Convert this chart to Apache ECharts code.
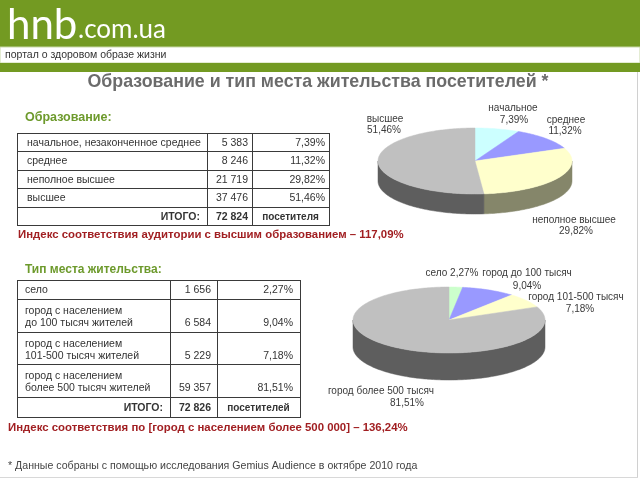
<!DOCTYPE html>
<html>
<head>
<meta charset="utf-8">
<script src="https://cdn.jsdelivr.net/npm/echarts@6/dist/echarts.min.js"></script>
<style>
  html, body { margin: 0; padding: 0; background: #fff; }
  #chart { width: 640px; height: 480px; }
</style>
</head>
<body>
<div id="chart"></div>
<script>
// данные: образование
const eduNames = ['начальное, незаконченное среднее', 'среднее', 'неполное высшее', 'высшее']
const eduShort = ['начальное', 'среднее', 'неполное высшее', 'высшее']
const eduCounts = [5383, 8246, 21719, 37476]
const eduShares = [7.39, 11.32, 29.82, 51.46]
const eduTotalWord = 'посетителя'

// данные: тип места жительства
const placeNames = [
  ['село'],
  ['город с населением', 'до 100 тысяч жителей'],
  ['город с населением', '101-500 тысяч жителей'],
  ['город с населением', 'более 500 тысяч жителей']
]
const placeShort = ['село', 'город до 100 тысяч', 'город 101-500 тысяч', 'город более 500 тысяч']
const placeCounts = [1656, 6584, 5229, 59357]
const placeShares = [2.27, 9.04, 7.18, 81.51]
const placeTotalWord = 'посетителей'

const FONT = '"Liberation Sans", Arial, sans-serif'
const GREEN = '#739a22'
const RED = '#a11f22'
const INK = '#333333'

const fmtInt = (n) => String(n).replace(/\B(?=(\d{3})+(?!\d))/g, ' ')
const fmtPct = (v) => v.toFixed(2).replace('.', ',') + '%'
const sum = (arr) => arr.reduce((s, v) => s + v, 0)

function text(x, y, str, opt = {}) {
  return {
    type: 'text',
    x, y,
    style: Object.assign({
      text: str,
      fill: INK,
      font: `${opt.weight || 'normal'} ${opt.size || 10.5}px ${FONT}`,
      textAlign: 'left',
      textVerticalAlign: 'middle'
    }, opt.style || {}),
    z: 10
  }
}

function hline(x0, x1, y, color = '#3a3a3a') {
  return { type: 'line', shape: { x1: x0, y1: y + 0.5, x2: x1, y2: y + 0.5 }, style: { stroke: color, lineWidth: 1 }, z: 5 }
}
function vline(x, y0, y1, color = '#3a3a3a') {
  return { type: 'line', shape: { x1: x + 0.5, y1: y0, x2: x + 0.5, y2: y1 }, style: { stroke: color, lineWidth: 1 }, z: 5 }
}

function gridLines(xs, ys) {
  const els = []
  ys.forEach((y) => els.push(hline(xs[0], xs[xs.length - 1] + 1, y)))
  xs.forEach((x) => els.push(vline(x, ys[0], ys[ys.length - 1] + 1)))
  return els
}

// таблица образования
function eduTable() {
  const xs = [17, 207, 252, 329]
  const ys = [133, 151, 170, 188, 207, 225]
  const els = gridLines(xs, ys)
  eduNames.forEach((name, i) => {
    const cy = (ys[i] + ys[i + 1]) / 2 + 1
    els.push(text(xs[0] + 10, cy, name))
    els.push(text(xs[2] - 4, cy, fmtInt(eduCounts[i]), { style: { textAlign: 'right' } }))
    els.push(text(xs[3] - 4, cy, fmtPct(eduShares[i]), { style: { textAlign: 'right' } }))
  })
  const cy = (ys[4] + ys[5]) / 2 + 1
  els.push(text(xs[1] - 7, cy, 'ИТОГО:', { weight: 'bold', style: { textAlign: 'right' } }))
  els.push(text(xs[2] - 4, cy, fmtInt(sum(eduCounts)), { weight: 'bold', style: { textAlign: 'right' } }))
  els.push(text((xs[2] + xs[3]) / 2, cy, eduTotalWord, { weight: 'bold', size: 10, style: { textAlign: 'center' } }))
  return els
}

// таблица места жительства
function placeTable() {
  const xs = [17, 170, 217, 300]
  const ys = [280, 299, 332, 364, 397, 417]
  const els = gridLines(xs, ys)
  placeNames.forEach((lines, i) => {
    let lastY
    if (lines.length === 1) {
      lastY = (ys[i] + ys[i + 1]) / 2 + 1
      els.push(text(xs[0] + 8, lastY, lines[0]))
    } else {
      els.push(text(xs[0] + 8, ys[i] + 12, lines[0]))
      lastY = ys[i] + 24
      els.push(text(xs[0] + 8, lastY, lines[1]))
    }
    els.push(text(xs[2] - 6, lastY, fmtInt(placeCounts[i]), { style: { textAlign: 'right' } }))
    els.push(text(xs[3] - 7, lastY, fmtPct(placeShares[i]), { style: { textAlign: 'right' } }))
  })
  const cy = (ys[4] + ys[5]) / 2 + 1
  els.push(text(xs[1] - 7, cy, 'ИТОГО:', { weight: 'bold', style: { textAlign: 'right' } }))
  els.push(text(xs[2] - 6, cy, fmtInt(sum(placeCounts)), { weight: 'bold', style: { textAlign: 'right' } }))
  els.push(text((xs[2] + xs[3]) / 2, cy, placeTotalWord, { weight: 'bold', size: 10, style: { textAlign: 'center' } }))
  return els
}

// подписи к круговым диаграммам: [x1, y1, x2, y2] для каждой строки
const eduLabelPos = [[513, 108, 514, 120], [566, 120, 565, 131], [574, 220, 576, 231], [385, 119, 384, 130]]
const placeLabelPos = [[452, 273], [527, 273, 527, 286], [576, 297, 580, 309], [381, 391, 407, 403]]

function pieLabels(names, shares, pos) {
  const els = []
  names.forEach((name, i) => {
    const p = pos[i]
    const o = { size: 10, style: { textAlign: 'center', fill: '#3a3a3a' } }
    if (p.length === 2) {
      els.push(text(p[0], p[1], `${name} ${fmtPct(shares[i])}`, o))
    } else {
      els.push(text(p[0], p[1], name, o))
      els.push(text(p[2], p[3], fmtPct(shares[i]), o))
    }
  })
  return els
}

// объемная круговая диаграмма (как в Excel)
function pie3d(values, tops, sides, cx, cy, rx, ry, depth) {
  const total = sum(values)
  const pt = (t, dy) => [cx + rx * Math.sin(t), cy - ry * Math.cos(t) + dy]
  const arc = (t0, t1, dy) => {
    const n = Math.max(2, Math.ceil((t1 - t0) / 0.02))
    const pts = []
    for (let k = 0; k <= n; k++) pts.push(pt(t0 + (t1 - t0) * k / n, dy))
    return pts
  }
  return {
    type: 'custom',
    coordinateSystem: 'none',
    silent: true,
    animation: false,
    data: values.map((v) => [v]),
    renderItem: (params, api) => {
      const i = params.dataIndex
      let before = 0
      for (let k = 0; k < i; k++) before += values[k]
      const t0 = before / total * Math.PI * 2
      const t1 = (before + api.value(0)) / total * Math.PI * 2
      const children = []
      const s0 = Math.max(t0, Math.PI / 2)
      const s1 = Math.min(t1, Math.PI * 1.5)
      if (s1 > s0) {
        const pts = arc(s0, s1, 0).concat(arc(s0, s1, depth).reverse())
        children.push({ type: 'polygon', shape: { points: pts }, style: { fill: sides[i], stroke: sides[i], lineWidth: 0.5 } })
      }
      children.push({
        type: 'polygon',
        shape: { points: [[cx, cy]].concat(arc(t0, t1, 0)) },
        style: { fill: tops[i], stroke: tops[i], lineWidth: 0.5 }
      })
      return { type: 'group', children }
    }
  }
}

const chart = echarts.init(document.getElementById('chart'), null, { renderer: 'canvas' })

const graphics = [
  // шапка
  { type: 'rect', shape: { x: 0, y: 0, width: 640, height: 47 }, style: { fill: GREEN } },
  { type: 'rect', shape: { x: 0, y: 47, width: 640, height: 16 }, style: { fill: '#ffffff', stroke: '#c9d9a8', lineWidth: 1 } },
  { type: 'rect', shape: { x: 0, y: 63, width: 640, height: 9 }, style: { fill: GREEN } },
  text(7, 25, 'hnb', { style: { fill: '#ffffff', font: `normal 42px Lato, "Open Sans", sans-serif` } }),
  text(78, 30, '.com.ua', { style: { fill: '#ffffff', font: `normal 26px Lato, "Open Sans", sans-serif` } }),
  text(5, 55, 'портал о здоровом образе жизни', { size: 10.5, style: { fill: '#333333' } }),
  // рамка слайда
  vline(637, 72, 478, '#d0d0d0'),
  hline(0, 638, 477, '#d8d8d8'),
  // заголовки
  text(318, 82, 'Образование и тип места жительства посетителей *', { weight: 'bold', size: 17.8, style: { textAlign: 'center', fill: '#6b6b6b' } }),
  text(25, 118, 'Образование:', { weight: 'bold', size: 12.5, style: { fill: '#6d9a2c' } }),
  text(25, 270, 'Тип места жительства:', { weight: 'bold', size: 12, style: { fill: '#6d9a2c' } }),
  text(18, 235, 'Индекс соответствия аудитории с высшим образованием – 117,09%', { weight: 'bold', size: 11.4, style: { fill: RED } }),
  text(8, 428, 'Индекс соответствия по [город с населением более 500 000] – 136,24%', { weight: 'bold', size: 11.4, style: { fill: RED } }),
  text(8, 466, '* Данные собраны с помощью исследования Gemius Audience в октябре 2010 года', { size: 10.6, style: { fill: '#444444' } })
]
  .concat(eduTable())
  .concat(placeTable())
  .concat(pieLabels(eduShort, eduShares, eduLabelPos))
  .concat(pieLabels(placeShort, placeShares, placeLabelPos))

chart.setOption({
  animation: false,
  backgroundColor: '#ffffff',
  graphic: graphics,
  series: [
    pie3d(eduShares, ['#ccffff', '#9999ff', '#ffffcc', '#c0c0c0'], ['#667f80', '#4d4d80', '#85866a', '#5e5e5e'], 475, 161, 97, 33, 20),
    pie3d(placeShares, ['#ccffcc', '#9999ff', '#ffffcc', '#c0c0c0'], ['#668066', '#4d4d80', '#85866a', '#5e5e5e'], 449, 320, 96, 33, 27)
  ]
})
</script>
</body>
</html>
